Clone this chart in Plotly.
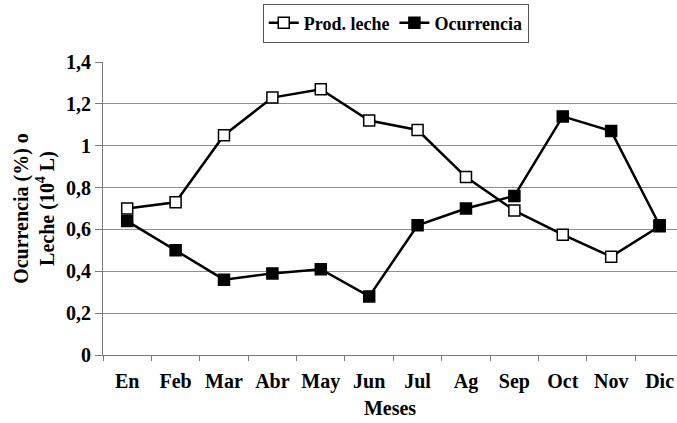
import plotly.graph_objects as go

meses = ["En", "Feb", "Mar", "Abr", "May", "Jun", "Jul", "Ag", "Sep", "Oct", "Nov", "Dic"]
prod_leche = [0.70, 0.73, 1.05, 1.23, 1.27, 1.12, 1.075, 0.85, 0.69, 0.575, 0.47, 0.615]
ocurrencia = [0.64, 0.50, 0.36, 0.39, 0.41, 0.28, 0.62, 0.70, 0.76, 1.14, 1.07, 0.62]
y_ticks = [0, 0.2, 0.4, 0.6, 0.8, 1.0, 1.2, 1.4]

font_family = "Liberation Serif, Times New Roman, serif"
bold = dict(family=font_family, size=20, color="black", weight="bold")

fig = go.Figure()
fig.add_trace(go.Scatter(
    x=meses, y=prod_leche, name="<b>Prod. leche</b>", mode="lines+markers",
    line=dict(color="black", width=2.5),
    marker=dict(symbol="square", size=11, color="white", line=dict(color="black", width=1.5)),
))
fig.add_trace(go.Scatter(
    x=meses, y=ocurrencia, name="<b>Ocurrencia</b>", mode="lines+markers",
    line=dict(color="black", width=2.5),
    marker=dict(symbol="square", size=11, color="black", line=dict(color="black", width=1.5)),
))

fig.update_layout(
    width=677, height=423,
    margin=dict(l=103, r=0, t=62, b=68, autoexpand=False),
    paper_bgcolor="white", plot_bgcolor="white",
    separators=",.",
    font=dict(family=font_family, size=20, color="black"),
    showlegend=True,
    legend=dict(
        orientation="h", x=0.51, xanchor="center", y=1.133, yanchor="middle",
        bordercolor="#555555", borderwidth=1,
        font=dict(family=font_family, size=18, color="black"),
        itemwidth=30, tracegroupgap=0,
    ),
    xaxis=dict(
        range=[-0.5, 11.36],
        showline=True, linecolor="#7a7a7a", linewidth=1,
        ticks="outside", ticklen=5, tickcolor="#7a7a7a", tickson="boundaries",
        ticklabelstandoff=8,
        showgrid=False, automargin=False,
        tickfont=bold,
        title=dict(text="Meses", standoff=8, font=bold),
    ),
    yaxis=dict(
        range=[0, 1.4], tickvals=y_ticks,
        showline=True, linecolor="#7a7a7a", linewidth=1,
        ticks="outside", ticklen=7, tickcolor="#7a7a7a",
        showgrid=True, gridcolor="#9a8a8a", gridwidth=1.2,
        zeroline=False, automargin=False,
        tickfont=bold,
        title=dict(text="Ocurrencia (%) o<br>Leche (10<sup>4</sup> L)", standoff=6,
                   font=dict(family=font_family, size=20, color="black", weight="bold")),
    ),
)

fig.write_html(
    "out.html",
    config={"displayModeBar": False},
    post_script="document.body.style.margin='0';document.body.style.overflow='hidden';",
)
